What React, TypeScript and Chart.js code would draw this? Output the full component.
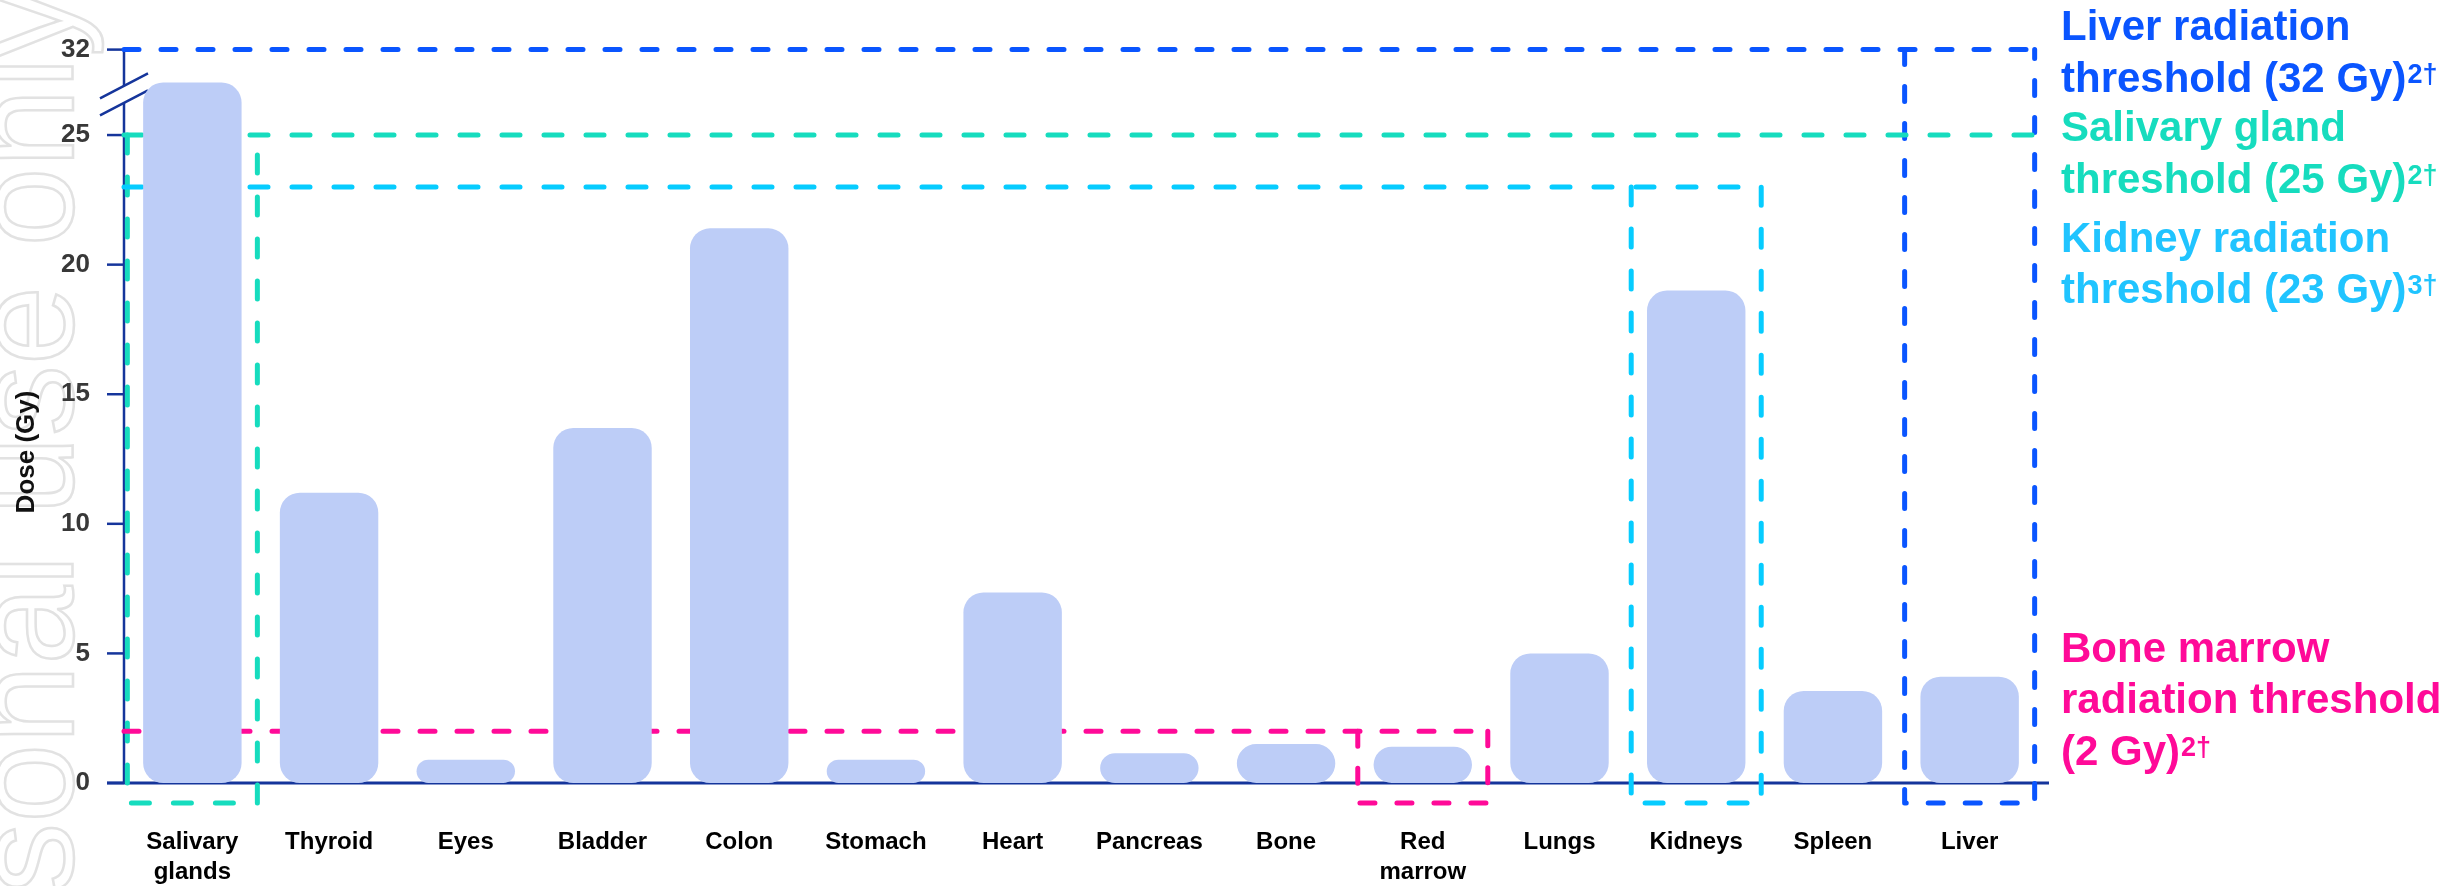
import React, { useEffect, useRef } from 'react';
import { Chart, registerables, LinearScale } from 'chart.js';

// ---------------- data ----------------
const CATEGORIES = [
  'Salivary glands', 'Thyroid', 'Eyes', 'Bladder', 'Colon', 'Stomach', 'Heart',
  'Pancreas', 'Bone', 'Red marrow', 'Lungs', 'Kidneys', 'Spleen', 'Liver',
];
const DOSE_GY = [29.3, 11.2, 0.9, 13.7, 21.4, 0.9, 7.35, 1.15, 1.5, 1.4, 5.0, 19.0, 3.55, 4.1];
const Y_TICKS = [0, 5, 10, 15, 20, 25, 32];
const BREAK_FROM = 25;

const THRESHOLD_VALUES = [32, 25, 23, 2];
const THRESHOLD_ORGANS = ['Liver', 'Salivary glands', 'Kidneys', 'Red marrow'];
const THRESHOLD_LINE_END = ['Liver', 'Liver', 'Kidneys', 'Red marrow'];
const THRESHOLD_LABELS = [
  ['Liver radiation', 'threshold (32 Gy)'],
  ['Salivary gland', 'threshold (25 Gy)'],
  ['Kidney radiation', 'threshold (23 Gy)'],
  ['Bone marrow', 'radiation threshold', '(2 Gy)'],
];
const THRESHOLD_REFS = ['2†', '2†', '3†', '2†'];
const WATERMARK = 'For personal use only';

// ---------------- styles ----------------
const FONT = "'Liberation Sans', Arial, Helvetica, sans-serif";
const LINE_COLORS = ['#0a55ff', '#16dcbe', '#06ccff', '#ff0a98'];
const TEXT_COLORS = ['#0a55ff', '#16dcbe', '#20c4ff', '#ff0a98'];
const DASHES = [[15, 22], [18, 24], [18, 24], [15, 22]];
const LABEL_BASELINES = [[40, 92], [141, 193], [252, 303], [662, 713, 765]];
const LABEL_X = 2061;
const AXIS_COLOR = '#15359b';
const BAR_COLOR = '#bdcdf7';
const COMPRESS = 0.471;

const toDisplay = (v: number) => (v <= BREAK_FROM ? v : BREAK_FROM + (v - BREAK_FROM) * COMPRESS);
const fromDisplay = (d: number) => (d <= BREAK_FROM ? d : BREAK_FROM + (d - BREAK_FROM) / COMPRESS);

class BrokenLinearScale extends LinearScale {
  static id = 'brokenLinear';
  static defaults = LinearScale.defaults;
  getPixelForValue(value: number) {
    const lo = toDisplay(this.min);
    const hi = toDisplay(this.max);
    return this.getPixelForDecimal((toDisplay(value) - lo) / (hi - lo));
  }
  getValueForPixel(pixel: number) {
    const lo = toDisplay(this.min);
    const hi = toDisplay(this.max);
    return fromDisplay(lo + this.getDecimalForPixel(pixel) * (hi - lo));
  }
}

Chart.register(...registerables, BrokenLinearScale as any);

const overlayPlugin = {
  id: 'overlay',
  beforeDraw(chart: any) {
    const ctx = chart.ctx;
    ctx.save();
    ctx.fillStyle = '#ffffff';
    ctx.fillRect(0, 0, chart.width, chart.height);
    // watermark
    ctx.translate(73, -14);
    ctx.rotate(-Math.PI / 2);
    ctx.font = `142px ${FONT}`;
    ctx.textAlign = 'right';
    ctx.textBaseline = 'alphabetic';
    ctx.strokeStyle = '#e2e2e2';
    ctx.lineWidth = 2.5;
    ctx.strokeText(WATERMARK, 0, 0);
    ctx.restore();
  },
  beforeDatasetsDraw(chart: any) {
    const ctx = chart.ctx;
    const x = chart.scales.x;
    const y = chart.scales.y;
    const area = chart.chartArea;
    const y0 = y.getPixelForValue(0);
    ctx.save();
    // axes
    ctx.strokeStyle = AXIS_COLOR;
    ctx.lineWidth = 2.5;
    ctx.beginPath();
    ctx.moveTo(area.left, y.getPixelForValue(32));
    ctx.lineTo(area.left, y0);
    ctx.stroke();
    ctx.lineWidth = 3;
    ctx.beginPath();
    ctx.moveTo(area.left - 17, y0);
    ctx.lineTo(area.right + 11, y0);
    ctx.stroke();
    ctx.lineWidth = 2.5;
    Y_TICKS.forEach((t) => {
      const py = y.getPixelForValue(t);
      ctx.beginPath();
      ctx.moveTo(area.left - 17, py);
      ctx.lineTo(area.left, py);
      ctx.stroke();
    });
    // axis break
    const bc = (y.getPixelForValue(25) + y.getPixelForValue(32)) / 2 + 2;
    const ax = area.left;
    const up = bc - 8.5;
    const lo = bc + 8.5;
    ctx.fillStyle = '#ffffff';
    ctx.beginPath();
    ctx.moveTo(ax - 24, up + 12.5);
    ctx.lineTo(ax + 24, up - 12.5);
    ctx.lineTo(ax + 24, lo - 12.5);
    ctx.lineTo(ax - 24, lo + 12.5);
    ctx.closePath();
    ctx.fill();
    ctx.lineWidth = 2.5;
    ctx.beginPath();
    ctx.moveTo(ax - 24, up + 12.5);
    ctx.lineTo(ax + 24, up - 12.5);
    ctx.moveTo(ax - 24, lo + 12.5);
    ctx.lineTo(ax + 24, lo - 12.5);
    ctx.stroke();

    // thresholds
    const catW = x.width / CATEGORIES.length;
    const half = catW * 0.4755;
    const boxBottom = y0 + 20;
    ctx.lineWidth = 5;
    ctx.lineCap = 'round';
    ctx.lineJoin = 'round';
    THRESHOLD_VALUES.forEach((v, i) => {
      const py = y.getPixelForValue(v);
      const ci = CATEGORIES.indexOf(THRESHOLD_ORGANS[i]);
      const ei = CATEGORIES.indexOf(THRESHOLD_LINE_END[i]);
      const cx = x.getPixelForValue(ci);
      const ex = x.getPixelForValue(ei) + half;
      ctx.strokeStyle = LINE_COLORS[i];
      ctx.setLineDash(DASHES[i]);
      ctx.beginPath();
      ctx.moveTo(area.left, py);
      ctx.lineTo(ex, py);
      ctx.stroke();
      ctx.beginPath();
      ctx.moveTo(cx - half, py);
      ctx.lineTo(cx - half, boxBottom);
      ctx.lineTo(cx + half, boxBottom);
      ctx.lineTo(cx + half, py);
      ctx.stroke();
    });
    ctx.restore();
  },
  afterDraw(chart: any) {
    const ctx = chart.ctx;
    ctx.save();
    // y title
    ctx.translate(27, 452);
    ctx.rotate(-Math.PI / 2);
    ctx.font = `bold 26px ${FONT}`;
    ctx.fillStyle = '#111111';
    ctx.textAlign = 'center';
    ctx.textBaseline = 'middle';
    ctx.fillText('Dose (Gy)', 0, 0);
    ctx.restore();

    ctx.save();
    ctx.textAlign = 'left';
    ctx.textBaseline = 'alphabetic';
    THRESHOLD_LABELS.forEach((lines, i) => {
      ctx.fillStyle = TEXT_COLORS[i];
      lines.forEach((line, j) => {
        const by = LABEL_BASELINES[i][j];
        ctx.font = `bold 42px ${FONT}`;
        ctx.fillText(line, LABEL_X, by);
        if (j === lines.length - 1) {
          const w = ctx.measureText(line).width;
          ctx.font = `bold 27px ${FONT}`;
          ctx.fillText(THRESHOLD_REFS[i], LABEL_X + w + 1, by - 9);
        }
      });
    });
    ctx.restore();
  },
};

export default function App() {
  const ref = useRef<HTMLCanvasElement | null>(null);
  useEffect(() => {
    document.body.style.margin = '0';
    const canvas = ref.current;
    if (!canvas) return;
    const chart = new Chart(canvas, {
      type: 'bar',
      data: {
        labels: CATEGORIES,
        datasets: [
          {
            data: DOSE_GY,
            backgroundColor: BAR_COLOR,
            borderWidth: 0,
            borderRadius: 20,
            borderSkipped: false,
            barPercentage: 0.72,
            categoryPercentage: 1.0,
          },
        ],
      },
      options: {
        responsive: false,
        animation: false,
        devicePixelRatio: 1,
        layout: { padding: { left: 0, right: 420, top: 45, bottom: 0 } },
        plugins: {
          legend: { display: false },
          tooltip: { enabled: false },
        },
        scales: {
          x: {
            type: 'category',
            grid: { display: false, drawTicks: false },
            border: { display: false },
            ticks: {
              autoSkip: false,
              maxRotation: 0,
              minRotation: 0,
              padding: 44,
              color: '#000000',
              font: { family: FONT, size: 24, weight: 'bold', lineHeight: 1.25 },
              callback: (_v: any, i: number) => CATEGORIES[i].split(' '),
            },
            afterFit: (s: any) => {
              s.height = 103;
            },
          },
          y: {
            type: 'brokenLinear' as any,
            min: 0,
            max: 32,
            grid: { display: false, drawTicks: false },
            border: { display: false },
            afterBuildTicks: (s: any) => {
              s.ticks = Y_TICKS.map((v) => ({ value: v }));
            },
            ticks: {
              autoSkip: false,
              padding: 34,
              color: '#383838',
              font: { family: FONT, size: 26, weight: 'bold' },
              callback: (v: any) => String(v),
            },
            afterFit: (s: any) => {
              s.width = 124;
            },
          },
        },
      } as any,
      plugins: [overlayPlugin],
    });
    return () => chart.destroy();
  }, []);
  return (
    <div style={{ width: 2458, height: 886 }}>
      <canvas ref={ref} width={2458} height={886} style={{ display: 'block' }} />
    </div>
  );
}
